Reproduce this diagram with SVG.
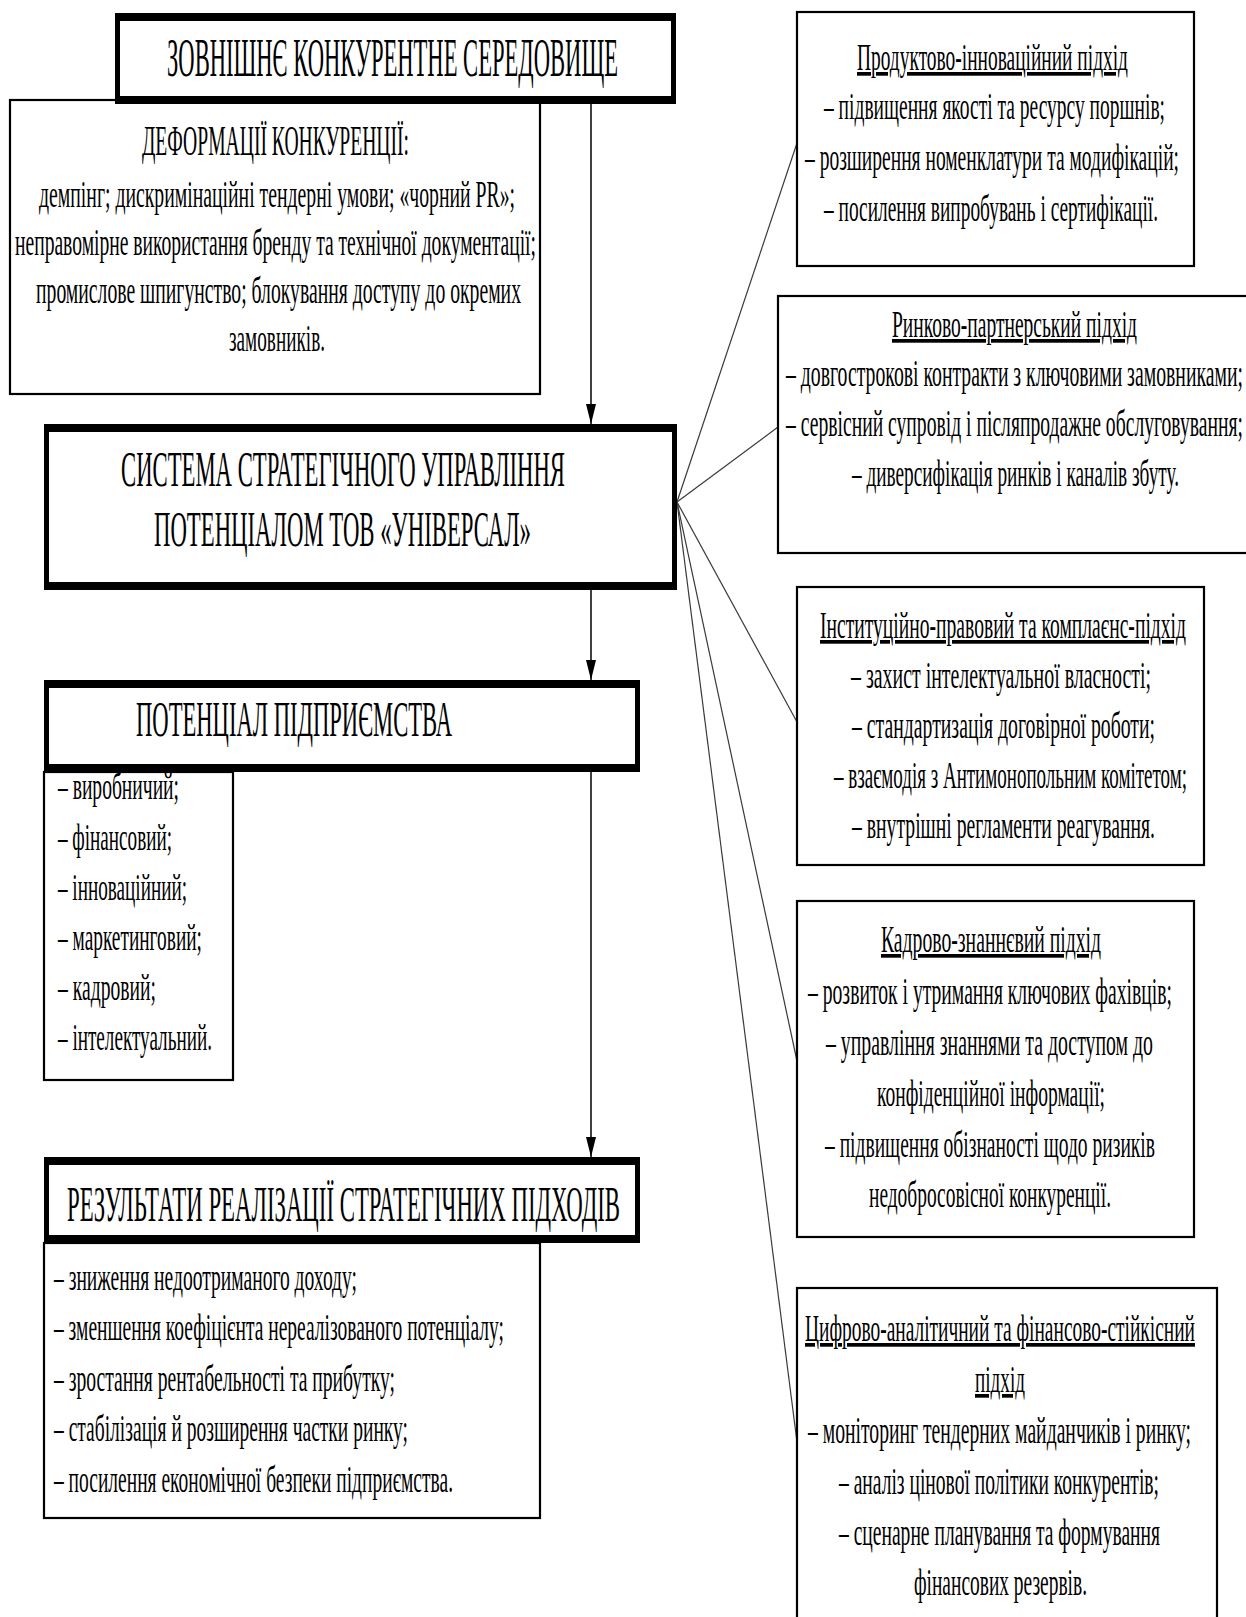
<svg xmlns="http://www.w3.org/2000/svg" width="1246" height="1617" viewBox="0 0 1246 1617">
<style>
  text { font-family: "Liberation Serif", "Times New Roman", serif; fill: #000; }
  .b { font-size: 37px; }
  .hd { font-size: 43px; }
  .big { font-size: 50px; }
  .top { font-size: 54px; }
  .u { text-decoration: underline; }
  .thin { fill: #fff; stroke: #000; stroke-width: 2.2; }
  .outer { fill: #000; }
  .inner { fill: #fff; }
  .con { stroke: #3a3a3a; stroke-width: 1.2; fill: none; }
  .arr { stroke: #000; stroke-width: 1.5; fill: none; }
</style>
<defs>
  <marker id="ah" viewBox="0 0 20 10" markerWidth="20" markerHeight="10" refX="20" refY="5" orient="auto" markerUnits="userSpaceOnUse">
    <path d="M0,0 L20,5 L0,10 z" fill="#000"/>
  </marker>
</defs>
<rect x="0" y="0" width="1246" height="1617" fill="#fff"/>

<g id="connectors">
  <line class="arr" x1="591" y1="104" x2="591" y2="424" marker-end="url(#ah)"/>
  <line class="arr" x1="591" y1="590" x2="591" y2="680" marker-end="url(#ah)"/>
  <line class="arr" x1="591" y1="772" x2="591" y2="1157" marker-end="url(#ah)"/>
  <line class="con" x1="677" y1="502" x2="797" y2="143"/>
  <line class="con" x1="677" y1="502" x2="778" y2="427"/>
  <line class="con" x1="677" y1="502" x2="797" y2="722"/>
  <line class="con" x1="677" y1="502" x2="797" y2="1061"/>
  <line class="con" x1="677" y1="502" x2="797" y2="1442"/>
</g>

<g id="deformations">
  <rect class="thin" x="10" y="100" width="530" height="294"/>
  <text class="hd" x="142" y="155" textLength="267" lengthAdjust="spacingAndGlyphs">ДЕФОРМАЦІЇ КОНКУРЕНЦІЇ:</text>
  <text class="b" x="39" y="207" textLength="476" lengthAdjust="spacingAndGlyphs">демпінг; дискримінаційні  тендерні умови; «чорний PR»;</text>
  <text class="b" x="15" y="255" textLength="521" lengthAdjust="spacingAndGlyphs">неправомірне використання бренду та технічної документації;</text>
  <text class="b" x="36" y="303" textLength="485" lengthAdjust="spacingAndGlyphs">промислове шпигунство; блокування доступу до окремих</text>
  <text class="b" x="229" y="351" textLength="96" lengthAdjust="spacingAndGlyphs">замовників.</text>
</g>

<g id="external">
  <rect class="outer" x="115" y="13" width="561" height="91"/>
  <rect class="inner" x="120" y="21" width="551" height="75"/>
  <text class="top" x="167" y="76" textLength="451" lengthAdjust="spacingAndGlyphs">ЗОВНІШНЄ КОНКУРЕНТНЕ СЕРЕДОВИЩЕ</text>
</g>

<g id="system">
  <rect class="outer" x="44" y="424" width="633" height="166"/>
  <rect class="inner" x="49" y="432" width="623" height="150"/>
  <text class="big" x="121" y="486" textLength="444" lengthAdjust="spacingAndGlyphs">СИСТЕМА СТРАТЕГІЧНОГО УПРАВЛІННЯ</text>
  <text class="big" x="154" y="546" textLength="377" lengthAdjust="spacingAndGlyphs">ПОТЕНЦІАЛОМ ТОВ «УНІВЕРСАЛ»</text>
</g>

<g id="potential-list">
  <rect class="thin" x="44" y="772" width="189" height="308"/>
  <text class="b" x="58" y="799" textLength="121" lengthAdjust="spacingAndGlyphs">– виробничий;</text>
  <text class="b" x="58" y="850" textLength="114" lengthAdjust="spacingAndGlyphs">– фінансовий;</text>
  <text class="b" x="58" y="900" textLength="129" lengthAdjust="spacingAndGlyphs">– інноваційний;</text>
  <text class="b" x="58" y="950" textLength="144" lengthAdjust="spacingAndGlyphs">– маркетинговий;</text>
  <text class="b" x="58" y="1000" textLength="98" lengthAdjust="spacingAndGlyphs">– кадровий;</text>
  <text class="b" x="58" y="1050" textLength="154" lengthAdjust="spacingAndGlyphs">– інтелектуальний.</text>
</g>

<g id="potential">
  <rect class="outer" x="44" y="680" width="596" height="92"/>
  <rect class="inner" x="49" y="688" width="586" height="76"/>
  <text class="big" x="136" y="736" textLength="316" lengthAdjust="spacingAndGlyphs">ПОТЕНЦІАЛ ПІДПРИЄМСТВА</text>
</g>

<g id="results-list">
  <rect class="thin" x="44" y="1243" width="496" height="275"/>
  <text class="b" x="54" y="1290" textLength="303" lengthAdjust="spacingAndGlyphs">– зниження недоотриманого доходу;</text>
  <text class="b" x="54" y="1340" textLength="450" lengthAdjust="spacingAndGlyphs">– зменшення коефіцієнта  нереалізованого потенціалу;</text>
  <text class="b" x="54" y="1391" textLength="341" lengthAdjust="spacingAndGlyphs">– зростання рентабельності та прибутку;</text>
  <text class="b" x="54" y="1441" textLength="354" lengthAdjust="spacingAndGlyphs">– стабілізація  й розширення частки ринку;</text>
  <text class="b" x="54" y="1492" textLength="399" lengthAdjust="spacingAndGlyphs">– посилення економічної безпеки підприємства.</text>
</g>

<g id="results">
  <rect class="outer" x="44" y="1157" width="596" height="86"/>
  <rect class="inner" x="49" y="1165" width="586" height="70"/>
  <text class="big" x="67" y="1221" textLength="553" lengthAdjust="spacingAndGlyphs">РЕЗУЛЬТАТИ РЕАЛІЗАЦІЇ СТРАТЕГІЧНИХ ПІДХОДІВ</text>
</g>

<g id="approach-product">
  <rect class="thin" x="797" y="12" width="397" height="254"/>
  <text class="b u" x="857" y="70" textLength="271" lengthAdjust="spacingAndGlyphs">Продуктово-інноваційний підхід</text>
  <text class="b" x="824" y="119" textLength="341" lengthAdjust="spacingAndGlyphs">– підвищення якості та ресурсу поршнів;</text>
  <text class="b" x="805" y="170" textLength="374" lengthAdjust="spacingAndGlyphs">– розширення номенклатури та модифікацій;</text>
  <text class="b" x="824" y="221" textLength="334" lengthAdjust="spacingAndGlyphs">– посилення випробувань і сертифікації.</text>
</g>

<g id="approach-market">
  <rect class="thin" x="778" y="296" width="480" height="257"/>
  <text class="b u" x="892" y="337" textLength="245" lengthAdjust="spacingAndGlyphs">Ринково-партнерський підхід</text>
  <text class="b" x="786" y="386" textLength="457" lengthAdjust="spacingAndGlyphs">– довгострокові контракти з ключовими замовниками;</text>
  <text class="b" x="786" y="436" textLength="457" lengthAdjust="spacingAndGlyphs">– сервісний супровід і післяпродажне обслуговування;</text>
  <text class="b" x="852" y="486" textLength="327" lengthAdjust="spacingAndGlyphs">– диверсифікація ринків і каналів збуту.</text>
</g>

<g id="approach-legal">
  <rect class="thin" x="797" y="587" width="407" height="278"/>
  <text class="b u" x="820" y="638" textLength="366" lengthAdjust="spacingAndGlyphs">Інституційно-правовий та комплаєнс-підхід</text>
  <text class="b" x="851" y="688" textLength="300" lengthAdjust="spacingAndGlyphs">– захист інтелектуальної власності;</text>
  <text class="b" x="852" y="738" textLength="303" lengthAdjust="spacingAndGlyphs">– стандартизація договірної роботи;</text>
  <text class="b" x="834" y="788" textLength="353" lengthAdjust="spacingAndGlyphs">– взаємодія з Антимонопольним комітетом;</text>
  <text class="b" x="852" y="838" textLength="303" lengthAdjust="spacingAndGlyphs">– внутрішні регламенти реагування.</text>
</g>

<g id="approach-hr">
  <rect class="thin" x="797" y="901" width="397" height="336"/>
  <text class="b u" x="881" y="952" textLength="220" lengthAdjust="spacingAndGlyphs">Кадрово-знаннєвий підхід</text>
  <text class="b" x="808" y="1004" textLength="364" lengthAdjust="spacingAndGlyphs">– розвиток і утримання ключових фахівців;</text>
  <text class="b" x="826" y="1055" textLength="327" lengthAdjust="spacingAndGlyphs">– управління знаннями та доступом до</text>
  <text class="b" x="877" y="1106" textLength="228" lengthAdjust="spacingAndGlyphs">конфіденційної  інформації;</text>
  <text class="b" x="825" y="1157" textLength="330" lengthAdjust="spacingAndGlyphs">– підвищення  обізнаності щодо ризиків</text>
  <text class="b" x="869" y="1207" textLength="242" lengthAdjust="spacingAndGlyphs">недобросовісної конкуренції.</text>
</g>

<g id="approach-digital">
  <rect class="thin" x="797" y="1288" width="420" height="400"/>
  <text class="b u" x="805" y="1341" textLength="390" lengthAdjust="spacingAndGlyphs">Цифрово-аналітичний та фінансово-стійкісний</text>
  <text class="b u" x="975" y="1392" textLength="50" lengthAdjust="spacingAndGlyphs">підхід</text>
  <text class="b" x="808" y="1443" textLength="383" lengthAdjust="spacingAndGlyphs">– моніторинг тендерних майданчиків і ринку;</text>
  <text class="b" x="839" y="1494" textLength="320" lengthAdjust="spacingAndGlyphs">– аналіз цінової політики конкурентів;</text>
  <text class="b" x="839" y="1545" textLength="321" lengthAdjust="spacingAndGlyphs">– сценарне планування та формування</text>
  <text class="b" x="914" y="1595" textLength="173" lengthAdjust="spacingAndGlyphs">фінансових резервів.</text>
</g>
</svg>
